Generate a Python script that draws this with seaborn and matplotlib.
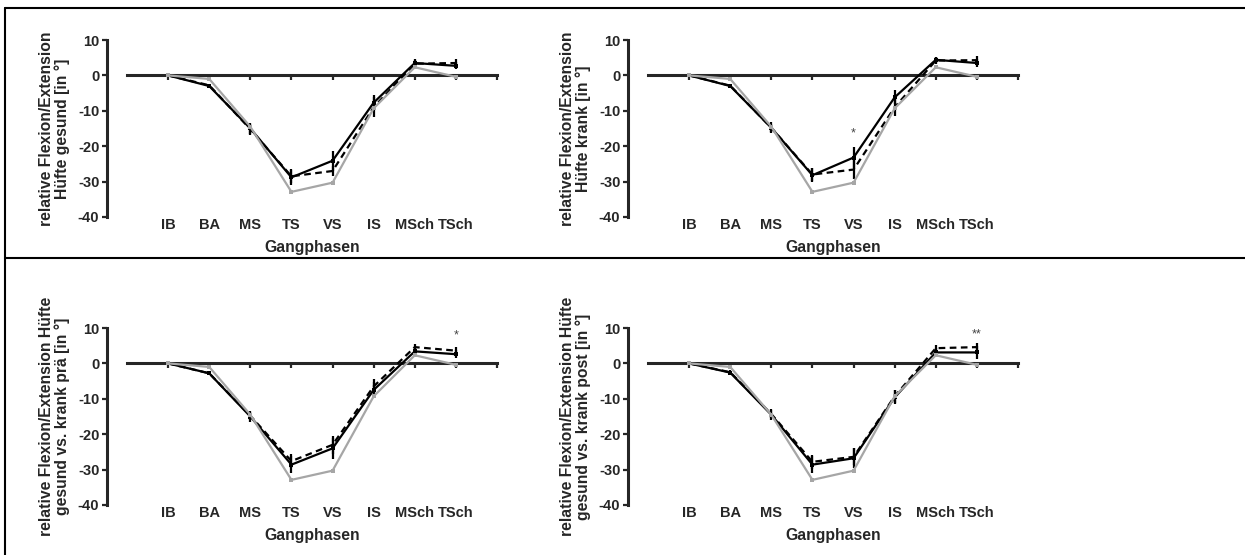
import matplotlib
matplotlib.use("Agg")
import matplotlib.pyplot as plt
import seaborn as sns
from matplotlib.lines import Line2D

# Gangphasen
phases = ["IB", "BA", "MS", "TS", "VS", "IS", "MSch", "TSch"]
pos = list(range(len(phases)))

# grey reference curve (same in every panel)
norm = [0, -1.0, -14.5, -32.9, -30.3, -9.3, 2.3, -0.4]

# panel 1: Hüfte gesund
gesund_solid = [0, -3.0, -15.0, -28.8, -24.1, -7.7, 3.5, 2.7]
gesund_solid_err = [0, 0.5, 1.5, 2.2, 2.8, 2.2, 1.0, 1.0]
gesund_dashed = [0, -2.8, -15.2, -28.5, -27.0, -9.0, 3.3, 3.5]
gesund_dashed_err = [0, 0.5, 1.5, 2.0, 1.5, 2.8, 1.0, 1.0]

# panel 2: Hüfte krank
krank_solid = [0, -3.0, -14.8, -28.2, -23.2, -6.2, 4.4, 3.5]
krank_solid_err = [0, 0.5, 1.5, 2.0, 3.0, 2.0, 0.8, 1.2]
krank_dashed = [0, -2.9, -14.8, -28.0, -26.6, -9.0, 4.2, 4.3]
krank_dashed_err = [0, 0.5, 1.2, 1.8, 2.8, 2.5, 1.0, 1.2]

# panel 3: gesund vs. krank prä
prae_solid = [0, -2.8, -15.0, -28.6, -24.0, -7.5, 3.4, 2.6]
prae_solid_err = [0, 0.5, 1.5, 2.4, 3.0, 2.2, 1.0, 1.2]
prae_dashed = [0, -2.8, -14.8, -27.6, -23.0, -6.5, 4.6, 3.6]
prae_dashed_err = [0, 0.5, 1.2, 2.0, 2.6, 2.0, 0.8, 1.0]

# panel 4: gesund vs. krank post
post_solid = [0, -2.6, -14.5, -28.6, -26.8, -9.6, 3.1, 3.1]
post_solid_err = [0, 0.5, 1.5, 2.4, 2.8, 2.0, 1.2, 1.8]
post_dashed = [0, -2.5, -14.3, -27.8, -26.4, -9.3, 4.3, 4.6]
post_dashed_err = [0, 0.5, 1.2, 2.0, 2.4, 1.8, 1.0, 1.2]

ylabels = [
    "relative Flexion/Extension\nHüfte gesund [in °]",
    "relative Flexion/Extension\nHüfte krank [in °]",
    "relative Flexion/Extension Hüfte\ngesund vs. krank prä [in °]",
    "relative Flexion/Extension Hüfte\ngesund vs. krank post [in °]",
]

# significance marks: (phase index, y value, text)
sig_marks = [None, (4, -16.5, "*"), (7, 7.8, "*"), (7, 8.2, "**")]

panels = [
    (gesund_solid, gesund_solid_err, gesund_dashed, gesund_dashed_err),
    (krank_solid, krank_solid_err, krank_dashed, krank_dashed_err),
    (prae_solid, prae_solid_err, prae_dashed, prae_dashed_err),
    (post_solid, post_solid_err, post_dashed, post_dashed_err),
]

sns.set_style("ticks")
plt.rcParams["font.family"] = ["Liberation Sans", "DejaVu Sans"]
plt.rcParams["font.weight"] = "bold"
plt.rcParams["axes.labelweight"] = "bold"
plt.rcParams["axes.unicode_minus"] = False

W, H = 1245, 555
fig = plt.figure(figsize=(W / 100, H / 100), dpi=100)

# pixel positions of each axes (left edge of zero line, y=10 line)
boxes = [(127, 40), (648, 40), (127, 328), (648, 328)]
grey = "#a6a6a6"

for i, (box, data) in enumerate(zip(boxes, panels)):
    left, top = box
    ax = fig.add_axes([left / W, 1 - (top + 177) / H, 370 / W, 177 / H])
    solid, solid_err, dashed, dashed_err = data

    ax.errorbar(pos, solid, yerr=solid_err, fmt="none", ecolor="black",
                elinewidth=1.6, capsize=0, zorder=3)
    ax.errorbar(pos, dashed, yerr=dashed_err, fmt="none", ecolor="black",
                elinewidth=1.6, capsize=0, zorder=3)
    sns.lineplot(x=pos, y=solid, ax=ax, color="black", lw=1.6,
                 marker="s", markersize=2.5, markeredgewidth=0, zorder=4)
    sns.lineplot(x=pos, y=dashed, ax=ax, color="black", lw=1.6,
                 ls=(0, (3, 2)), zorder=4)
    sns.lineplot(x=pos, y=norm, ax=ax, color=grey, lw=1.6,
                 marker="s", markersize=2.5, markeredgewidth=0, zorder=5)

    ax.set_xlim(-1, 8)
    ax.set_ylim(-40, 10)
    ax.set_yticks([-40, -30, -20, -10, 0, 10])
    ax.tick_params(axis="y", labelsize=10.5, length=3.5, width=1.6, pad=2)

    # zero line with ticks (Prism style)
    ax.spines["bottom"].set_position(("data", 0))
    ax.spines["bottom"].set_linewidth(2.2)
    ax.spines["left"].set_position(("outward", 14.4))
    ax.spines["left"].set_linewidth(2.2)
    ax.spines["top"].set_visible(False)
    ax.spines["right"].set_visible(False)
    ax.set_xticks(range(0, 9))
    ax.tick_params(axis="x", length=3.5, width=1.6, labelbottom=False)

    sec = ax.secondary_xaxis("bottom")
    sec.set_xticks(pos, labels=phases)
    sec.tick_params(length=0, labelsize=10.5, pad=0.5)
    sec.spines["bottom"].set_visible(False)
    sec.set_xlabel("Gangphasen", fontsize=11.3, labelpad=6)

    ax.set_ylabel(ylabels[i], fontsize=11.3, linespacing=1.0)
    ax.yaxis.set_label_coords(-0.155, 0.5)

    if sig_marks[i] is not None:
        k, yv, txt = sig_marks[i]
        ax.text(pos[k], yv, txt, ha="center", va="center", fontsize=9,
                fontweight="normal", color="#444444")

# table-like frame lines
fig.add_artist(Line2D([5 / W, 1], [1 - 8 / H, 1 - 8 / H], color="black", lw=1.5))
fig.add_artist(Line2D([5 / W, 1], [1 - 258 / H, 1 - 258 / H], color="black", lw=1.5))
fig.add_artist(Line2D([5 / W, 5 / W], [0, 1 - 8 / H], color="black", lw=1.5))

plt.savefig("out.png", dpi=100)
plt.close()
